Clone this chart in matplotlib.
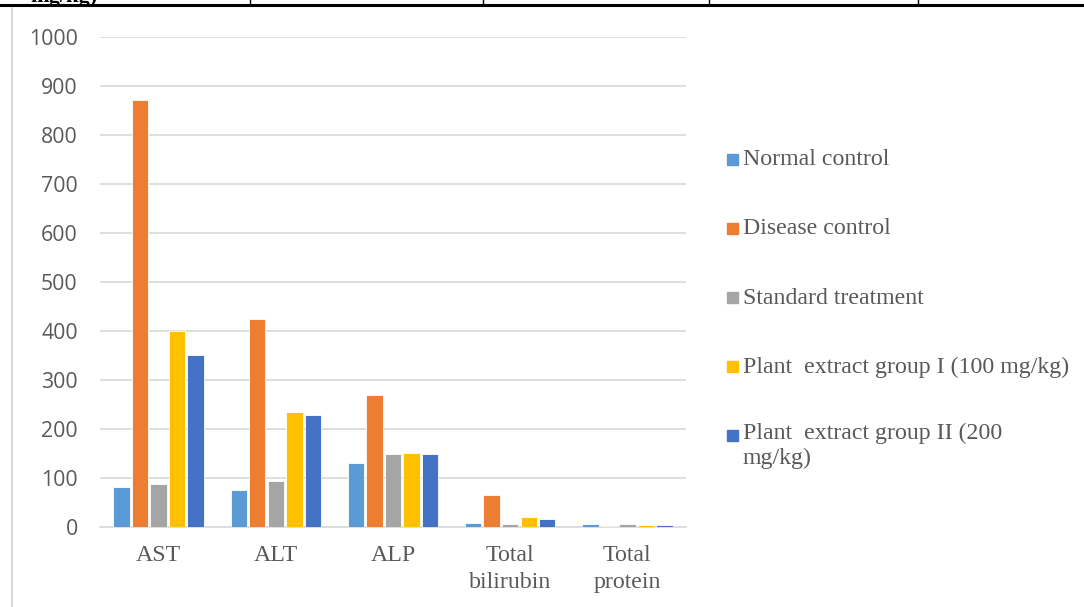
import matplotlib
matplotlib.use("Agg")
import matplotlib.pyplot as plt
import numpy as np
from matplotlib.lines import Line2D

categories = ["AST", "ALT", "ALP", "Total\nbilirubin", "Total\nprotein"]
series_names = ["Normal control", "Disease control", "Standard treatment",
                "Plant  extract group I (100 mg/kg)",
                "Plant  extract group II (200\nmg/kg)"]
normal_control = [81, 75, 131, 9, 6]
disease_control = [872, 425, 269, 65, 3]
standard_treatment = [88, 93, 150, 7, 6]
plant_group_1 = [400, 235, 152, 20, 4]
plant_group_2 = [352, 229, 149, 16, 5]
yticks = [0, 100, 200, 300, 400, 500, 600, 700, 800, 900, 1000]

colors = ["#5b9bd5", "#ed7d31", "#a5a5a5", "#ffc000", "#4472c4"]
series = [normal_control, disease_control, standard_treatment, plant_group_1, plant_group_2]

W, H = 1084, 607
fig = plt.figure(figsize=(W / 100, H / 100), dpi=100)
ax = fig.add_axes([100 / W, 80 / H, 586 / W, 490 / H])

x = np.arange(len(categories))
slot = 0.158
width = 0.14
for i, (vals, c) in enumerate(zip(series, colors)):
    ax.bar(x + (i - 2) * slot, vals, width=width, color=c, edgecolor="white",
           linewidth=0.6, zorder=3, label=series_names[i])

ax.set_xlim(-0.5, len(categories) - 0.5)
ax.set_ylim(0, 1000)
ax.set_yticks(yticks)
ax.set_yticklabels([str(t) for t in yticks], family="Open Sans", fontsize=15.3, color="#595959")
ax.tick_params(axis="y", length=0, pad=16)
ax.set_xticks(x)
ax.set_xticklabels(categories, family="Liberation Serif", fontsize=17.2, color="#595959",
                   linespacing=1.38)
ax.tick_params(axis="x", length=0, pad=13)
ax.grid(axis="y", color="#d9d9d9", linewidth=1.2, zorder=0)
for s in ["top", "right", "left"]:
    ax.spines[s].set_visible(False)
ax.spines["bottom"].set_color("#d9d9d9")
ax.spines["bottom"].set_linewidth(1.2)

# legend drawn as individual entries
leg_y = [159, 228, 297, 366, 435]
for name, c, yy in zip(series_names, colors, leg_y):
    fig.add_artist(plt.Rectangle((727 / W, 1 - (yy + 6) / H), 11 / W, 11 / H,
                                 transform=fig.transFigure, color=c))
    if "\n" in name:
        fig.text(743 / W, 1 - (yy - 12) / H, name, family="Liberation Serif", fontsize=17.2,
                 color="#595959", va="top", ha="left", linespacing=1.2)
    else:
        fig.text(743 / W, 1 - (yy + 1) / H, name, family="Liberation Serif", fontsize=17.2,
                 color="#595959", va="center", ha="left")

# page elements around chart (table border and frame)
fig.add_artist(Line2D([0, 1], [1 - 5 / H, 1 - 5 / H], transform=fig.transFigure,
                      color="black", linewidth=2.2))
for xv in [250, 483, 709, 918]:
    fig.add_artist(Line2D([xv / W, xv / W], [1 - 5 / H, 1], transform=fig.transFigure,
                          color="black", linewidth=1))
fig.add_artist(Line2D([12 / W, 12 / W], [0, 1 - 8 / H], transform=fig.transFigure,
                      color="#d0d0d0", linewidth=1.2))
fig.text(30 / W, 1 - 2 / H, "mg/kg)", family="Liberation Serif", fontsize=16,
         weight="bold", color="black", va="baseline", ha="left")

fig.savefig("out.png", dpi=100, facecolor="white")
